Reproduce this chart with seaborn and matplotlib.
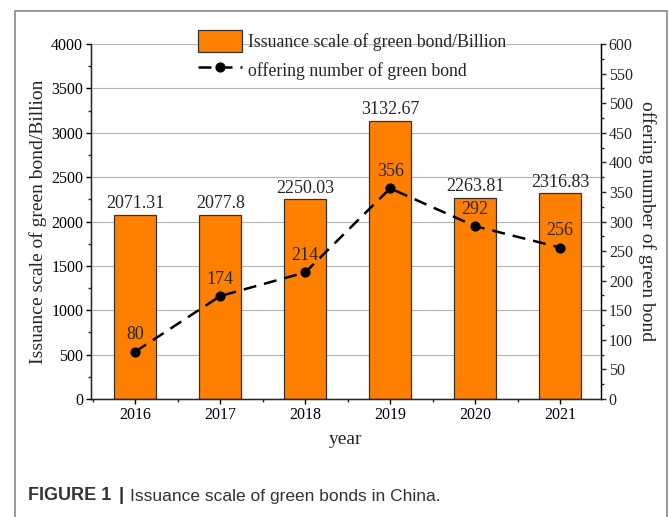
import numpy as np
import pandas as pd
import matplotlib
matplotlib.use("Agg")
import matplotlib.pyplot as plt
import seaborn as sns
from matplotlib.patches import Rectangle
from matplotlib.ticker import MultipleLocator

years = ["2016", "2017", "2018", "2019", "2020", "2021"]
scale = [2071.31, 2077.8, 2250.03, 3132.67, 2263.81, 2316.83]
scale_labels = ["2071.31", "2077.8", "2250.03", "3132.67", "2263.81", "2316.83"]
counts = [80, 174, 214, 356, 292, 256]

sns.set_style("white")
plt.rcParams["font.family"] = ["Liberation Serif", "DejaVu Serif"]

df = pd.DataFrame({"year": years, "scale": scale, "count": counts})

fig = plt.figure(figsize=(6.69, 5.17), dpi=100)
ax = fig.add_axes([91/669, 1-399/517, (601-91)/669, (399-44)/517])

sns.barplot(data=df, x="year", y="scale", ax=ax, color="#FF8000", width=0.5,
            edgecolor="#333333", linewidth=0.9, saturation=1,
            label="Issuance scale of green bond/Billion", zorder=2)
ax.set_ylim(0, 4000)
ax.set_xlim(-0.52, 5.48)
ax.yaxis.set_major_locator(MultipleLocator(500))
ax.yaxis.set_minor_locator(MultipleLocator(250))
ax.grid(axis="y", which="major", color="#b5b5b5", linewidth=0.8, zorder=0)
ax.set_axisbelow(True)
ax.set_xticks(range(6))
ax.set_xticks(np.arange(-0.5, 6, 1), minor=True)
ax.spines["top"].set_visible(False)
for sp in ["left", "right", "bottom"]:
    ax.spines[sp].set_color("black")
    ax.spines[sp].set_linewidth(1.0)
ax.tick_params(axis="both", which="major", direction="out", length=3.6, width=1, pad=2,
               labelsize=11.5, colors="black", left=True, bottom=True)
ax.tick_params(axis="both", which="minor", direction="out", length=2.2, width=1, left=True, bottom=True)
ax.set_xlabel("year", fontsize=14)
ax.set_ylabel("Issuance scale of green bond/Billion", fontsize=14)
ax.xaxis.set_label_coords(0.5, -(440 - 399) / 355, transform=ax.transAxes)
ax.yaxis.set_label_coords((38 - 91) / 510, 0.5)
ax.xaxis.label.set_va("center")
ax.yaxis.label.set_va("center")

ax.bar_label(ax.containers[0], labels=scale_labels, fontsize=13, padding=2)

ax2 = ax.twinx()
sns.pointplot(data=df, x="year", y="count", ax=ax2, color="black", linestyles="--",
              markers="o", markersize=6, linewidth=1.8,
              label="offering number of green bond")
for line in ax2.lines:
    line.set_dashes([5.2, 3.2])
ax2.set_ylim(0, 600)
ax2.set_xlim(-0.52, 5.48)
ax2.yaxis.set_major_locator(MultipleLocator(50))
ax2.yaxis.set_minor_locator(MultipleLocator(25))
ax2.spines["top"].set_visible(False)
ax2.spines["right"].set_color("black")
ax2.tick_params(axis="y", which="major", direction="out", length=3.6, width=1, pad=2,
                labelsize=11.5, right=True)
ax2.tick_params(axis="y", which="minor", direction="out", length=2.2, width=1, right=True)
ax2.set_ylabel("offering number of green bond", fontsize=14, rotation=270)
ax2.yaxis.set_label_coords((647 - 91) / 510, 0.5)
ax2.yaxis.label.set_va("center")
ax2.grid(False)
for i, c in enumerate(counts):
    ax2.annotate(str(c), (i, c), xytext=(0, 6), textcoords="offset points",
                 ha="center", va="bottom", fontsize=13)

if ax2.get_legend():
    ax2.get_legend().remove()
if ax.get_legend():
    ax.get_legend().remove()
h1, l1 = ax.get_legend_handles_labels()
h2, l2 = ax2.get_legend_handles_labels()
fig.legend(h1 + h2, l1 + l2, loc="upper left", bbox_to_anchor=(182/669, 1-14/517),
           frameon=False, fontsize=12.8, handlelength=2.5, handleheight=1.5, labelspacing=0.4,
           handletextpad=0.3)

fig.patches.append(Rectangle((15/669, -0.1), (667-15)/669, 1.1 - 11/517,
                             transform=fig.transFigure, fill=False,
                             edgecolor="#888888", linewidth=1.2))
cap_y = 1 - 496/517
fig.text(28/669, cap_y, "FIGURE 1", fontsize=13, fontweight="bold",
         family=["Liberation Sans"], color="#333333", va="center")
fig.text(119/669, cap_y, "|", fontsize=13.5, fontweight="bold",
         family=["Liberation Sans"], color="#333333", va="center")
fig.text(130/669, cap_y, "Issuance scale of green bonds in China.", fontsize=12.5,
         family=["Liberation Sans"], color="#333333", va="center")

fig.savefig("out.png", dpi=100)
